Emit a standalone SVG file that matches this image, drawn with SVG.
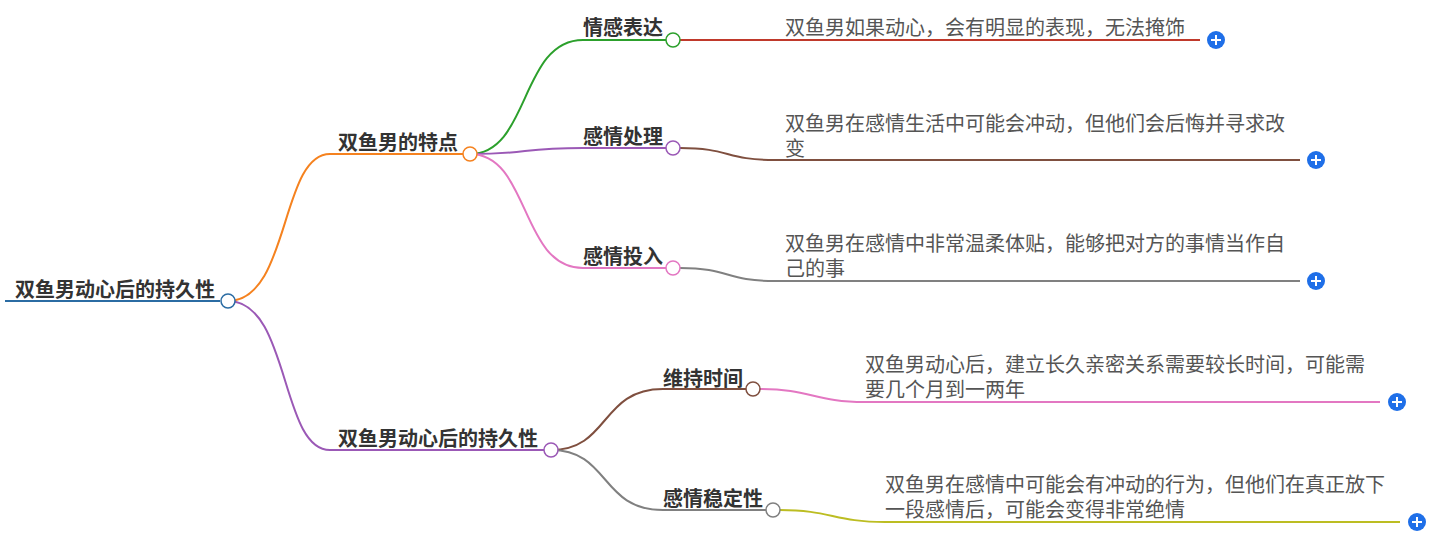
<svg xmlns="http://www.w3.org/2000/svg" width="1440" height="547" viewBox="0 0 1440 547">
<style>
.l{font-family:"Noto Sans CJK SC",sans-serif;font-weight:bold;font-size:20px;fill:#333}
.t{font-family:"Noto Sans CJK SC",sans-serif;font-size:20px;fill:#555}
path{fill:none;stroke-width:2}
circle.n{fill:#fff;stroke-width:1.5}
</style>
<defs>
<g id="plus"><circle r="9" fill="#1f6fe8"/><path d="M-5 0H5M0 -5V5" stroke="#fff" stroke-width="2"/></g>
</defs>
<g id="connectors">
<path d="M5 301H220" stroke="#2b6ca3" stroke-width="5"/>
<path d="M228 301C290 301 280 154 330 154H463" stroke="#f5821f"/>
<path d="M228 301C290 301 280 450 330 450H544" stroke="#9b59b6"/>
<path d="M470 154C530 154 520 40 583 40H666" stroke="#2ca02c"/>
<path d="M470 154C530 154 520 148 583 148H666" stroke="#9b59b6"/>
<path d="M470 154C530 154 520 268 583 268H666" stroke="#e377c2"/>
<path d="M680 40H1200" stroke="#c0392b"/>
<path d="M680 148C730 148 725 160 775 160H1300" stroke="#7f4f3f"/>
<path d="M680 268C730 268 725 281 775 281H1300" stroke="#808080"/>
<path d="M551 450C610 450 600 389 663 389H746" stroke="#7f4f3f"/>
<path d="M551 450C610 450 600 510 663 510H766" stroke="#808080"/>
<path d="M760 389C810 389 815 402 865 402H1380" stroke="#e377c2"/>
<path d="M780 510C830 510 835 522 885 522H1400" stroke="#bcbd22"/>
</g>
<g id="root"><text class="l" x="15" y="297">双鱼男动心后的持久性</text><circle class="n" cx="228" cy="301" r="7" stroke="#2b6ca3"/></g>
<g id="n1"><text class="l" x="338" y="150">双鱼男的特点</text><circle class="n" cx="470" cy="154" r="7" stroke="#f5821f"/></g>
<g id="n2"><text class="l" x="338" y="446">双鱼男动心后的持久性</text><circle class="n" cx="551" cy="450" r="7" stroke="#9b59b6"/></g>
<g id="n11"><text class="l" x="583" y="35">情感表达</text><circle class="n" cx="673" cy="40" r="7" stroke="#2ca02c"/></g>
<g id="n12"><text class="l" x="583" y="144">感情处理</text><circle class="n" cx="673" cy="148" r="7" stroke="#9b59b6"/></g>
<g id="n13"><text class="l" x="583" y="264">感情投入</text><circle class="n" cx="673" cy="268" r="7" stroke="#e377c2"/></g>
<g id="n21"><text class="l" x="663" y="386">维持时间</text><circle class="n" cx="753" cy="389" r="7" stroke="#7f4f3f"/></g>
<g id="n22"><text class="l" x="663" y="506">感情稳定性</text><circle class="n" cx="773" cy="510" r="7" stroke="#808080"/></g>
<g id="leaf1"><text class="t" x="785" y="35">双鱼男如果动心，会有明显的表现，无法掩饰</text><use href="#plus" x="1216" y="40"/></g>
<g id="leaf2"><text class="t" x="785" y="131">双鱼男在感情生活中可能会冲动，但他们会后悔并寻求改</text><text class="t" x="785" y="156">变</text><use href="#plus" x="1316" y="160"/></g>
<g id="leaf3"><text class="t" x="785" y="251">双鱼男在感情中非常温柔体贴，能够把对方的事情当作自</text><text class="t" x="785" y="276">己的事</text><use href="#plus" x="1316" y="281"/></g>
<g id="leaf4"><text class="t" x="865" y="372">双鱼男动心后，建立长久亲密关系需要较长时间，可能需</text><text class="t" x="865" y="397">要几个月到一两年</text><use href="#plus" x="1397" y="402"/></g>
<g id="leaf5"><text class="t" x="885" y="492">双鱼男在感情中可能会有冲动的行为，但他们在真正放下</text><text class="t" x="885" y="517">一段感情后，可能会变得非常绝情</text><use href="#plus" x="1417" y="522"/></g>
</svg>
